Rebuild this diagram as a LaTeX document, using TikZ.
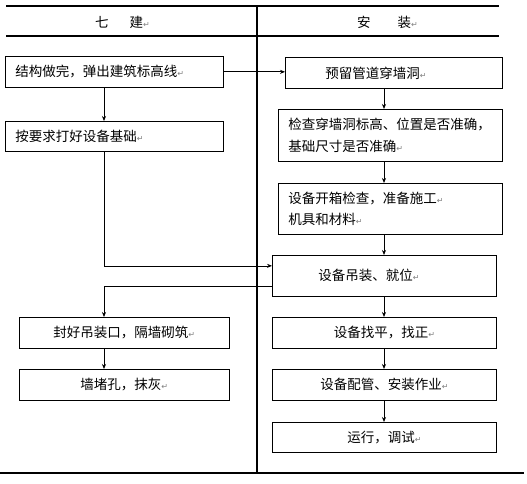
\documentclass[tikz,border=0pt]{standalone}
\usepackage{fontspec}
\newfontfamily\cjk{Noto Sans CJK SC}
\newfontfamily\symf{DejaVu Sans}
\usetikzlibrary{arrows.meta}
\newcommand{\pmark}{{\symf\color{gray}\fontsize{8}{8}\selectfont ↵}}

\begin{document}
\begin{tikzpicture}[x=1pt,y=-1pt,
  box/.style={draw,line width=0.7pt,anchor=north west,inner ysep=0pt,align=left,
    font=\cjk\fontsize{13.5}{21}\selectfont},
  mid/.style={box,align=center,inner xsep=6pt},
  head/.style={anchor=west,inner sep=0pt,font=\cjk\fontsize{13.5}{16}\selectfont},
  arr/.style={line width=0.7pt,-{Stealth[length=5pt,width=4pt]}},
  rule/.style={line width=2pt}]
  \useasboundingbox (0,0) rectangle (527,484);
  % table rules
  \draw[rule] (6,6) -- (499,6);
  \draw[rule] (6,36.5) -- (499,36.5);
  \draw[rule] (257,6) -- (257,473);
  \draw[rule] (0,473) -- (524,473);
  \node[head] (tujian) at (95,22) {七\hspace{21pt}建\pmark};
  \node[head] (anzhuang) at (357,22) {安\hspace{27pt}装\pmark};
  \coordinate (colL) at (104,0);
  \coordinate (colR) at (384,0);
  % left column
  \node[box,text width=198pt,inner xsep=10pt,minimum height=31pt] (jiegou) at (5,56) {结构做完，弹出建筑标高线\pmark};
  \node[box,text width=198pt,inner xsep=10pt,minimum height=30pt] (jichu) at (5,121) {按要求打好设备基础\pmark};
  \node[mid,text width=198pt,minimum height=31pt] (fenghao) at (19,317) {封好吊装口，隔墙砌筑\pmark};
  \node[mid,text width=198pt,minimum height=31pt] (mohui) at (19,369) {墙堵孔，抹灰\pmark};
  % right column
  \node[box,text width=137pt,inner xsep=40pt,minimum height=31pt] (yuliu) at (285,57) {预留管道穿墙洞\pmark};
  \node[box,text width=204pt,inner xsep=10pt,minimum height=52pt] (jiancha) at (278,109) {检查穿墙洞标高、位置是否准确，\\基础尺寸是否准确\pmark};
  \node[box,text width=204pt,inner xsep=10pt,minimum height=51pt] (kaixiang) at (278,183) {设备开箱检查，准备施工\pmark\\机具和材料\pmark};
  \node[box,text width=132pt,inner xsep=46pt,minimum height=41pt] (diaozhuang) at (272,255) {设备吊装、就位\pmark};
  \node[mid,text width=212pt,minimum height=31pt] (zhaoping) at (272,317) {设备找平，找正\pmark};
  \node[mid,text width=212pt,minimum height=31pt] (peiguan) at (272,369) {设备配管、安装作业\pmark};
  \node[mid,text width=212pt,minimum height=30pt] (tiaoshi) at (272,422) {运行，调试\pmark};
  % connectors
  \draw[arr] (jiegou.south -| colL) -- (jichu.north -| colL);
  \draw[arr] (jiegou.east) -- (yuliu.west |- jiegou.east);
  \draw[arr] (jichu.south -| colL) |- ([yshift=10pt]diaozhuang.west);
  \draw[arr] ([yshift=-10pt]diaozhuang.west) -| (fenghao.north -| colL);
  \draw[arr] (fenghao.south -| colL) -- (mohui.north -| colL);
  \draw[arr] (yuliu.south -| colR) -- (jiancha.north -| colR);
  \draw[arr] (jiancha.south -| colR) -- (kaixiang.north -| colR);
  \draw[arr] (kaixiang.south -| colR) -- (diaozhuang.north -| colR);
  \draw[arr] (diaozhuang.south -| colR) -- (zhaoping.north -| colR);
  \draw[arr] (zhaoping.south -| colR) -- (peiguan.north -| colR);
  \draw[arr] (peiguan.south -| colR) -- (tiaoshi.north -| colR);
\end{tikzpicture}
\end{document}
